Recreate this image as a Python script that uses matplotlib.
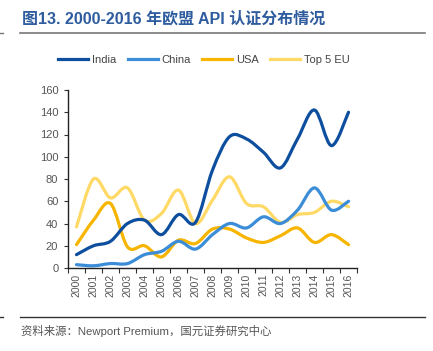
import matplotlib
matplotlib.use("Agg")
import matplotlib.pyplot as plt
from matplotlib.path import Path
from matplotlib.patches import PathPatch
from matplotlib.lines import Line2D
import numpy as np

years = [str(y) for y in range(2000, 2017)]
india = [12, 20, 24, 40, 43, 30, 48, 41, 88, 118, 116, 104, 90, 116, 142, 110, 140]
china = [3, 2, 4, 4, 12, 15, 24, 17, 30, 40, 36, 46, 40, 52, 72, 52, 60]
usa = [21, 43, 58, 19, 20, 10, 25, 22, 35, 35, 27, 23, 29, 36, 23, 30, 21]
eu = [37, 80, 63, 72, 43, 49, 70, 40, 61, 82, 58, 55, 41, 48, 50, 60, 55]
series_names = ["India", "China", "USA", "Top 5 EU"]
colors = ["#0D4F9E", "#3C8DD8", "#F7B500", "#FFD966"]
yticks = [0, 20, 40, 60, 80, 100, 120, 140, 160]

plt.rcParams['font.family'] = ['Liberation Sans', 'Noto Sans CJK SC', 'DejaVu Sans']

fig = plt.figure(figsize=(4.33, 3.51), dpi=100)
ax = fig.add_axes([68/433, 1-268/351, (357-68)/433, (268-90)/351])

def smooth_path(xs, ys):
    pts = np.column_stack([xs, ys]).astype(float)
    verts = [pts[0]]
    codes = [Path.MOVETO]
    n = len(pts)
    for i in range(n-1):
        p0 = pts[i-1] if i > 0 else pts[i]
        p1 = pts[i]
        p2 = pts[i+1]
        p3 = pts[i+2] if i+2 < n else pts[i+1]
        c1 = p1 + (p2 - p0) / 6.0
        c2 = p2 - (p3 - p1) / 6.0
        verts += [c1, c2, p2]
        codes += [Path.CURVE4]*3
    return Path(verts, codes)

x = np.arange(len(years))
for vals, c in zip([india, china, usa, eu][::-1], colors[::-1]):
    patch = PathPatch(smooth_path(x, vals), facecolor='none', edgecolor=c, lw=2.3, capstyle='round', joinstyle='round')
    ax.add_patch(patch)

ax.set_xlim(-0.5, 16.5)
ax.set_ylim(0, 160)
ax.set_yticks(yticks)
ax.set_yticklabels([str(v) for v in yticks])
ax.set_xticks(x)
ax.set_xticklabels(years, rotation=90)
ax.set_xticks(np.arange(-0.5, 17, 1), minor=True)
ax.tick_params(axis='x', which='major', length=0, pad=4, labelsize=7.5, labelcolor='#555555')
ax.tick_params(axis='x', which='minor', length=3.5, width=0.8, direction='out', color='#333333')
ax.tick_params(axis='y', length=3, width=0.8, direction='out', pad=4, labelsize=8, labelcolor='#555555', color='#333333')
for s in ['top', 'right']:
    ax.spines[s].set_visible(False)
for s in ['left', 'bottom']:
    ax.spines[s].set_color('#222222')
    ax.spines[s].set_linewidth(1.0)

handles = [Line2D([0], [0], color=c, lw=2.3) for c in colors]
fig.legend(handles, series_names, loc='center', bbox_to_anchor=(204/433, 1-60/351), ncol=4,
           frameon=False, fontsize=8, handlelength=2.7, handletextpad=0.35, columnspacing=1.0,
           labelcolor='#444444', borderaxespad=0, borderpad=0)

fig.text(22/433, 1-19/351, "图13. 2000-2016 年欧盟 API 认证分布情况", fontsize=11.5, fontweight='bold',
         color='#2E5C9E', va='center', ha='left')
fig.add_artist(Line2D([20/433, 425/433], [1-33/351, 1-33/351], color='#777777', lw=1.2))
fig.add_artist(Line2D([0, 3/433], [1-33/351, 1-33/351], color='#777777', lw=1.0))
fig.add_artist(Line2D([20/433, 425/433], [1-317/351, 1-317/351], color='#333333', lw=1.0))
fig.add_artist(Line2D([0, 3/433], [1-317/351, 1-317/351], color='#333333', lw=1.0))
fig.text(21/433, 1-331/351, "资料来源：Newport Premium，国元证券研究中心", fontsize=8.2,
         color='#555555', va='center', ha='left')

fig.savefig("out.png", dpi=100)
